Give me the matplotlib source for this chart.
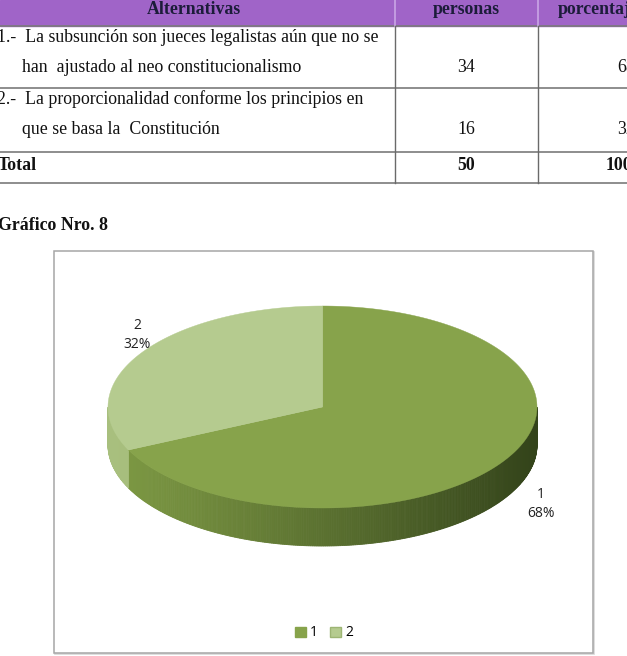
import numpy as np
import matplotlib
matplotlib.use("Agg")
import matplotlib.pyplot as plt
from matplotlib.patches import Polygon, Rectangle, Patch
from matplotlib.colors import to_rgb

# ---------------- data ----------------
headers = ["Alternativas", "personas", "porcentaje"]
alternatives = [
    ["1.-  La subsunción son jueces legalistas aún que no se",
     "han  ajustado al neo constitucionalismo"],
    ["2.-  La proporcionalidad conforme los principios en",
     "que se basa la  Constitución"],
]
personas = [34, 16]
porcentaje = ["68%", "32%"]
total_label = "Total"
total_personas = 50
total_pct = "100%"
chart_title = "Gráfico Nro. 8"
pie_labels = ["1", "2"]
pie_values = [68, 32]

# ---------------- layout ----------------
W, H = 627, 656
fig = plt.figure(figsize=(W / 100, H / 100), dpi=100)
ax = fig.add_axes([0, 0, 1, 1])
ax.set_xlim(0, W)
ax.set_ylim(H, 0)
ax.axis("off")

serif = "Liberation Serif"
tcol = "#111111"
fs = 12.8

# table
header_h = 26
row_tops = [26, 88]
row_bottom = [88, 152]
total_bottom = 183
col_x = [395, 538]
ax.add_patch(Rectangle((0, 0), W, header_h, color="#A064C8", zorder=1))
ax.text(194, 10, headers[0], ha="center", va="center", family=serif,
        fontsize=fs, fontweight="bold", color="#1C1C3A")
ax.text(466, 10, headers[1], ha="center", va="center", family=serif,
        fontsize=fs, fontweight="bold", color="#1C1C3A")
ax.text(558, 10, headers[2], ha="left", va="center", family=serif,
        fontsize=fs, fontweight="bold", color="#1C1C3A")

for i, (lines, p, pc) in enumerate(zip(alternatives, personas, porcentaje)):
    top = row_tops[i]
    ax.text(-3, top + 11, lines[0], ha="left", va="center", family=serif,
            fontsize=fs, color=tcol)
    ax.text(22, top + 42, lines[1], ha="left", va="center", family=serif,
            fontsize=fs, color=tcol)
    ax.text(466, top + 42, str(p), ha="center", va="center", family=serif,
            fontsize=fs, color=tcol)
    ax.text(617, top + 42, pc, ha="left", va="center", family=serif,
            fontsize=fs, color=tcol)

ax.text(-2, 166, total_label, ha="left", va="center", family=serif,
        fontsize=fs, fontweight="bold", color=tcol)
ax.text(466, 166, str(total_personas), ha="center", va="center", family=serif,
        fontsize=fs, fontweight="bold", color=tcol)
ax.text(606, 166, total_pct, ha="left", va="center", family=serif,
        fontsize=fs, fontweight="bold", color=tcol)

for y in [header_h] + row_bottom + [total_bottom]:
    ax.plot([0, W], [y, y], color="#7a7a7a", lw=1.2, zorder=3)
for x in col_x:
    ax.plot([x, x], [0, header_h], color="#C9A6E6", lw=1.2, zorder=3)
    ax.plot([x, x], [header_h, total_bottom], color="#6a6a6a", lw=1.0, zorder=3)

ax.text(-2, 226, chart_title, ha="left", va="center", family=serif,
        fontsize=12.8, fontweight="bold", color=tcol)

# chart box
ax.add_patch(Rectangle((55, 252), 539, 402, fc="none", ec="#d8d8d8", lw=1.2, zorder=1))
ax.add_patch(Rectangle((54, 251), 539, 402, fc="white", ec="#a6a6a6", lw=1.1, zorder=2))

# 3D pie
cx, cy, rx, ry, depth = 322.5, 407, 214.5, 101, 38
top_colors = ["#87A34B", "#B5CB8F"]
side_light = ["#7E9A44", "#A8BF7E"]
side_dark = ["#33431A", "#8FA563"]

def pt(theta_deg, dy=0.0):
    t = np.radians(theta_deg)
    return cx + rx * np.cos(t), cy - ry * np.sin(t) + dy

total = float(sum(pie_values))
start = 90.0
spans = []
for v in pie_values:
    ext = 360.0 * v / total
    spans.append((start - ext, start))  # clockwise
    start -= ext

def blend(c1, c2, f):
    a, b = np.array(to_rgb(c1)), np.array(to_rgb(c2))
    return tuple(a + (b - a) * f)

# sides (front half: angles in [-180, 0])
for k, (a0, a1) in enumerate(spans):
    for off in (0, -360, 360):
        lo = max(a0 + off, -180)
        hi = min(a1 + off, 0)
        if hi <= lo:
            continue
        n = max(2, int((hi - lo) / 0.5))
        th = np.linspace(lo, hi, n + 1)
        for j in range(n):
            t0, t1 = th[j], th[j + 1]
            xm = np.cos(np.radians((t0 + t1) / 2))
            f = np.clip((xm + 1) / 2, 0, 1) ** 1.1
            col = blend(side_light[k], side_dark[k], f)
            p0, p1 = pt(t0), pt(t1)
            q1, q0 = pt(t1, depth), pt(t0, depth)
            ax.add_patch(Polygon([p0, p1, q1, q0], closed=True, fc=col, ec=col,
                                 lw=0.6, zorder=4))

# tops
for k, (a0, a1) in enumerate(spans):
    th = np.linspace(a0, a1, 200)
    pts = [(cx, cy)] + [pt(t) for t in th]
    ax.add_patch(Polygon(pts, closed=True, fc=top_colors[k], ec=top_colors[k],
                         lw=0.3, zorder=5))

label_pos = [(541, 504), (137, 335)]
for lab, v, (lx, ly) in zip(pie_labels, pie_values, label_pos):
    ax.text(lx, ly, f"{lab}\n{v}%", ha="center", va="center", family="Open Sans",
            fontsize=10, color="#222222", linespacing=1.3, zorder=6)

handles = [Patch(fc=top_colors[0], ec=top_colors[0]),
           Patch(fc=top_colors[1], ec="#9DB574")]
fig.legend(handles, pie_labels, loc="center", bbox_to_anchor=(324 / W, 1 - 633 / H),
           ncol=2, frameon=False, handlelength=0.75, handleheight=0.75,
           handletextpad=0.3, columnspacing=0.9,
           prop={"family": "Open Sans", "size": 10})

fig.savefig("out.png", dpi=100)
